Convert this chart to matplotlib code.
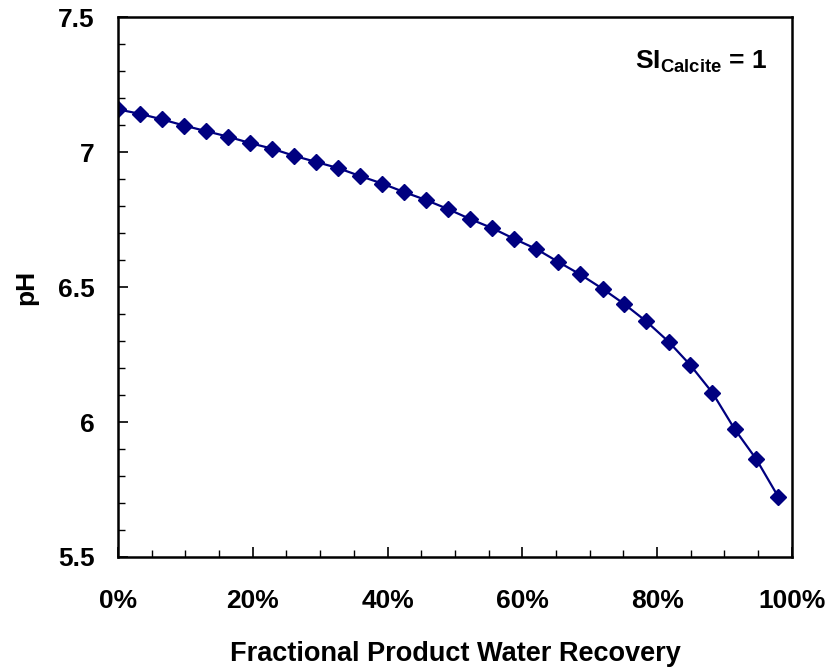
import matplotlib
matplotlib.use("Agg")
import matplotlib.pyplot as plt
from matplotlib.ticker import MultipleLocator, PercentFormatter

plt.rcParams['font.family'] = ['Liberation Sans', 'DejaVu Sans']
plt.rcParams['mathtext.fontset'] = 'custom'
plt.rcParams['mathtext.rm'] = 'Liberation Sans:bold'
plt.rcParams['mathtext.bf'] = 'Liberation Sans:bold'
plt.rcParams['mathtext.it'] = 'Liberation Sans:bold'

recovery = [0.000, 0.033, 0.065, 0.098, 0.131, 0.163, 0.196, 0.229, 0.261, 0.294,
            0.327, 0.359, 0.392, 0.425, 0.457, 0.490, 0.523, 0.555, 0.588, 0.621,
            0.653, 0.686, 0.719, 0.751, 0.784, 0.817, 0.849, 0.882, 0.915, 0.947, 0.980]
ph = [7.159, 7.142, 7.122, 7.099, 7.078, 7.058, 7.034, 7.013, 6.987, 6.964,
      6.941, 6.912, 6.884, 6.852, 6.823, 6.789, 6.752, 6.719, 6.679, 6.641,
      6.594, 6.547, 6.494, 6.438, 6.373, 6.298, 6.212, 6.109, 5.974, 5.863, 5.722]

fig = plt.figure(figsize=(8.34, 6.67), dpi=100)
ax = fig.add_axes([0.1415, 0.165, 0.808, 0.809])

ax.plot(recovery, ph, color='#000080', linewidth=1.6, marker='D', markersize=8,
        markerfacecolor='#000080', markeredgecolor='#000080')

ax.set_xlim(0, 1)
ax.set_ylim(5.5, 7.5)
ax.xaxis.set_major_locator(MultipleLocator(0.2))
ax.xaxis.set_minor_locator(MultipleLocator(0.05))
ax.yaxis.set_major_locator(MultipleLocator(0.5))
ax.yaxis.set_minor_locator(MultipleLocator(0.1))
ax.xaxis.set_major_formatter(PercentFormatter(1.0, decimals=0))
ax.yaxis.set_major_formatter(plt.FuncFormatter(lambda v, p: ('%g' % v)))

ax.tick_params(axis='both', which='major', direction='in', length=7, width=1.2,
               labelsize=19)
ax.tick_params(axis='both', which='minor', direction='in', length=5, width=1)
ax.tick_params(axis='x', which='major', pad=23)
ax.tick_params(axis='y', which='major', pad=17)
for lab in ax.get_xticklabels() + ax.get_yticklabels():
    lab.set_fontweight('bold')

for s in ax.spines.values():
    s.set_linewidth(1.8)

ax.set_xlabel('Fractional Product Water Recovery', fontsize=19.5, fontweight='bold', labelpad=20)
ax.set_ylabel('pH', fontsize=19, fontweight='bold', labelpad=14)

ax.text(0.964, 0.905, r'$\mathbf{SI_{Calcite}}$' + ' = 1', transform=ax.transAxes,
        ha='right', va='baseline', fontsize=19, fontweight='bold')

fig.savefig('out.png', dpi=100)
